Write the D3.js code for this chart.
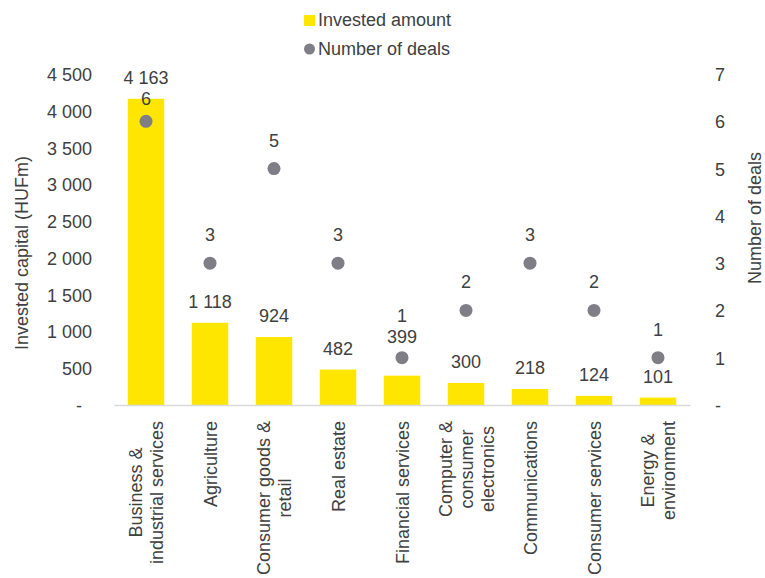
<!DOCTYPE html>
<html>
<head>
<meta charset="utf-8">
<script src="https://cdn.jsdelivr.net/npm/d3@7"></script>
<style>
  html, body { margin: 0; padding: 0; background: #fff; }
  svg text { font-family: "Liberation Sans", Arial, sans-serif; fill: #404040; }
</style>
</head>
<body>
<svg id="chart" width="765" height="578"></svg>
<script>
// Sector breakdown: invested capital (bars, left axis) and number of deals (dots, right axis)
const categories = [
  ["Business &", "industrial services"],
  ["Agriculture"],
  ["Consumer goods &", "retail"],
  ["Real estate"],
  ["Financial services"],
  ["Computer &", "consumer", "electronics"],
  ["Communications"],
  ["Consumer services"],
  ["Energy &", "environment"]
];
const investedAmount = [4163, 1118, 924, 482, 399, 300, 218, 124, 101];
const numberOfDeals = [6, 3, 5, 3, 1, 2, 3, 2, 1];
const leftTicks = [0, 500, 1000, 1500, 2000, 2500, 3000, 3500, 4000, 4500];
const rightTicks = [0, 1, 2, 3, 4, 5, 6, 7];

const svg = d3.select("#chart");
const FS = 18;
const plotLeft = 114, plotRight = 690, plotTop = 74, plotBottom = 405;

const keys = categories.map(c => c.join(" "));
const x = d3.scaleBand().domain(keys).range([plotLeft, plotRight]).paddingInner(0.43).paddingOuter(0.215);
const yL = d3.scaleLinear().domain([0, 4500]).range([plotBottom, plotTop]);
const yR = d3.scaleLinear().domain([0, 7]).range([plotBottom, plotTop]);

// space as thousands separator, dash for zero
const fmt = v => v === 0 ? "-" : d3.format(",")(v).replace(/,/g, " ");

// left axis
const gL = svg.append("g").attr("transform", `translate(92,0)`)
  .call(d3.axisLeft(yL).tickValues(leftTicks).tickSize(0).tickPadding(0).tickFormat(fmt));
gL.select(".domain").remove();
gL.selectAll("text").style("font-size", FS + "px").attr("dy", "0.36em")
  .attr("dx", d => d === 0 ? -10 : 0);

// right axis
const gR = svg.append("g").attr("transform", `translate(715,0)`)
  .call(d3.axisRight(yR).tickValues(rightTicks).tickSize(0).tickPadding(0).tickFormat(fmt));
gR.select(".domain").remove();
gR.selectAll("text").style("font-size", FS + "px").attr("dy", "0.36em");

// axis titles
svg.append("text").attr("transform", `translate(28,253) rotate(-90)`)
  .attr("text-anchor", "middle").style("font-size", FS + "px").text("Invested capital (HUFm)");
svg.append("text").attr("transform", `translate(761,218) rotate(-90)`)
  .attr("text-anchor", "middle").style("font-size", FS + "px").text("Number of deals");

// bars
svg.append("g").selectAll("rect").data(investedAmount).join("rect")
  .attr("x", (d, i) => x(keys[i]))
  .attr("width", x.bandwidth())
  .attr("y", d => yL(d))
  .attr("height", d => plotBottom - yL(d))
  .attr("fill", "#ffe600");

// category axis
const gX = svg.append("g").attr("transform", `translate(0,${plotBottom})`)
  .call(d3.axisBottom(x).tickSize(0).tickFormat(""));
gX.select(".domain").attr("stroke", "#d9d9d9").attr("stroke-width", 1.5);
gX.selectAll(".tick").each(function (k, i) {
  const lines = categories[i];
  const g = d3.select(this).append("g");
  const texts = g.selectAll("text").data(lines).join("text")
    .attr("text-anchor", "middle")
    .style("font-size", FS + "px")
    .text(d => d);
  let maxLen = 0;
  texts.each(function () { maxLen = Math.max(maxLen, this.getComputedTextLength()); });
  const lh = 21;
  const n = lines.length;
  texts.attr("transform", (d, j) =>
    `translate(${(j - (n - 1) / 2) * lh + 6.5},${16 + maxLen / 2}) rotate(-90)`);
});

// dots
const cx = i => x(keys[i]) + x.bandwidth() / 2;
svg.append("g").selectAll("circle").data(numberOfDeals).join("circle")
  .attr("cx", (d, i) => cx(i))
  .attr("cy", d => yR(d))
  .attr("r", 6.5)
  .attr("fill", "#7f7e86");

// value labels (a few are lifted to keep clear of neighbouring marks)
const barLift = { 4: 33 };
const dotLift = { 0: 16, 4: 36 };
svg.append("g").selectAll("text").data(investedAmount).join("text")
  .attr("x", (d, i) => cx(i))
  .attr("y", (d, i) => yL(d) - (barLift[i] || 15))
  .attr("text-anchor", "middle").style("font-size", FS + "px")
  .text(d => fmt(d));
svg.append("g").selectAll("text").data(numberOfDeals).join("text")
  .attr("x", (d, i) => cx(i))
  .attr("y", (d, i) => yR(d) - (dotLift[i] || 22))
  .attr("text-anchor", "middle").style("font-size", FS + "px")
  .text(d => d);

// legend
const lg = svg.append("g");
lg.append("rect").attr("x", 304).attr("y", 15).attr("width", 11).attr("height", 11).attr("fill", "#ffe600");
lg.append("text").attr("x", 318).attr("y", 26).style("font-size", FS + "px").text("Invested amount");
lg.append("circle").attr("cx", 309.5).attr("cy", 49).attr("r", 5.5).attr("fill", "#7f7e86");
lg.append("text").attr("x", 318).attr("y", 55).style("font-size", FS + "px").text("Number of deals");
</script>
</body>
</html>
